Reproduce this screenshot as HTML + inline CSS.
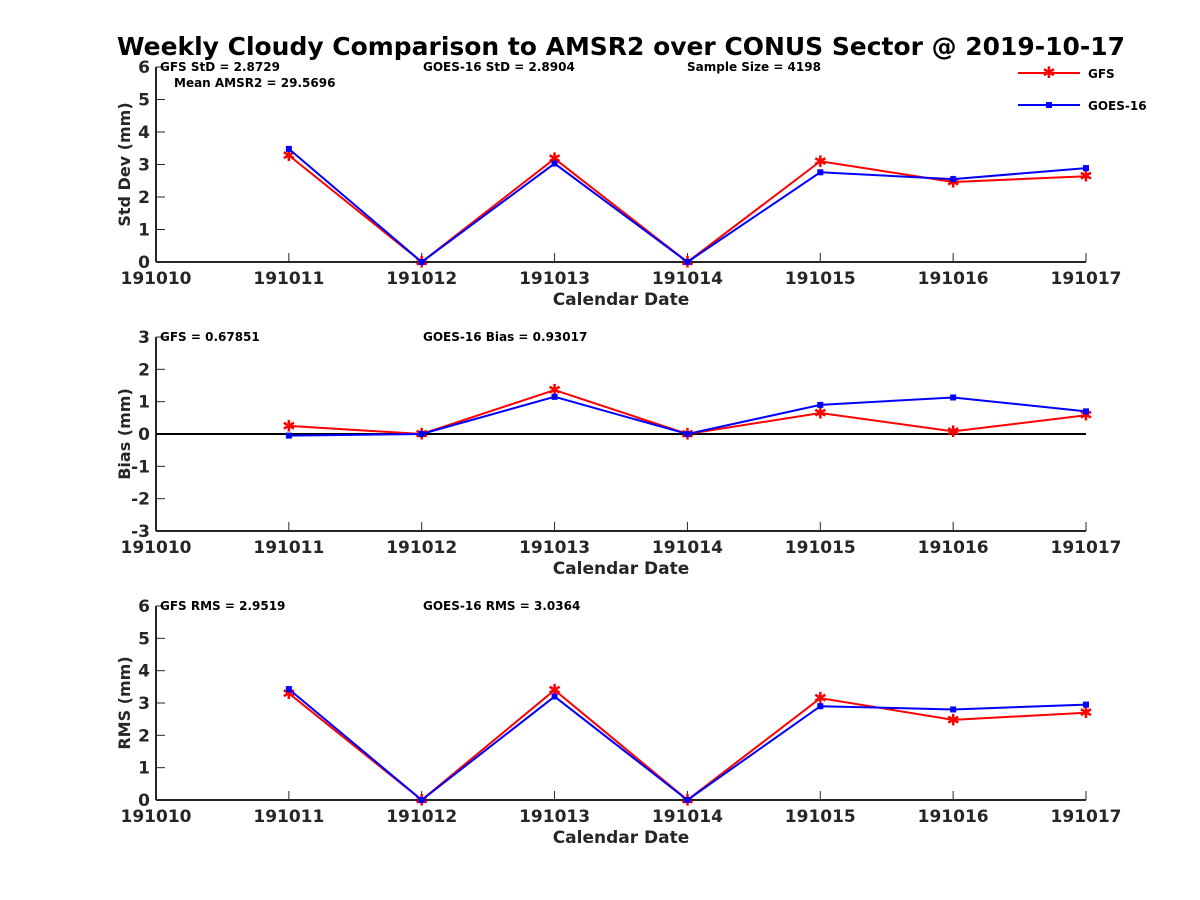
<!DOCTYPE html>
<html><head><meta charset="utf-8"><style>
body{margin:0;background:#fff}
svg{display:block;font-family:"DejaVu Sans","Liberation Sans",sans-serif;font-weight:bold}
</style></head><body>
<svg id="chart" width="1200" height="900" viewBox="0 0 1200 900" xmlns="http://www.w3.org/2000/svg">
<rect width="1200" height="900" fill="#fff"/>
<text x="621" y="55" font-size="25" text-anchor="middle" textLength="1008" lengthAdjust="spacingAndGlyphs" fill="#000">Weekly Cloudy Comparison to AMSR2 over CONUS Sector @ 2019-10-17</text>
<g>
<line x1="1018" y1="73" x2="1080" y2="73" stroke="red" stroke-width="2"/>
<text x="1049" y="78" font-size="16" text-anchor="middle" fill="red">✱</text>
<text x="1088" y="78" font-size="12">GFS</text>
<line x1="1018" y1="105" x2="1080" y2="105" stroke="blue" stroke-width="2"/>
<rect x="1046" y="102" width="6" height="6" fill="blue"/>
<text x="1088" y="110" font-size="12">GOES-16</text>
</g>
</svg>
<script>
const xLabels=["191010","191011","191012","191013","191014","191015","191016","191017"];
const xIdx=[1,2,3,4,5,6,7];
const stdGFS=[3.28,0,3.18,0,3.1,2.46,2.64];
const stdGOES=[3.48,0,3.03,0,2.76,2.55,2.89];
const biasGFS=[0.25,0,1.36,0,0.65,0.08,0.58];
const biasGOES=[-0.05,0,1.15,0,0.9,1.13,0.7];
const rmsGFS=[3.3,0,3.4,0,3.15,2.48,2.7];
const rmsGOES=[3.43,0,3.2,0,2.9,2.8,2.95];
const stdTicks=[0,1,2,3,4,5,6];
const biasTicks=[-3,-2,-1,0,1,2,3];
const rmsTicks=[0,1,2,3,4,5,6];
const panels=[
 {name:"std",top:67,bot:262,min:0,max:6,ticks:stdTicks,gfs:stdGFS,goes:stdGOES,ylabel:"Std Dev (mm)",
  notes:[[160,71,"GFS StD = 2.8729"],[174,87,"Mean AMSR2 = 29.5696"],[423,71,"GOES-16 StD = 2.8904"],[687,71,"Sample Size = 4198"]]},
 {name:"bias",top:337,bot:531,min:-3,max:3,ticks:biasTicks,gfs:biasGFS,goes:biasGOES,ylabel:"Bias (mm)",zero:true,
  notes:[[160,341,"GFS = 0.67851"],[423,341,"GOES-16 Bias  = 0.93017"]]},
 {name:"rms",top:606,bot:800,min:0,max:6,ticks:rmsTicks,gfs:rmsGFS,goes:rmsGOES,ylabel:"RMS (mm)",
  notes:[[160,610,"GFS RMS = 2.9519"],[423,610,"GOES-16 RMS = 3.0364"]]}
];
const svg=document.getElementById('chart');
const NS="http://www.w3.org/2000/svg";
const X0=156,X1=1086;
function xs(i){return X0+(X1-X0)*i/7;}
function mk(tag,attrs,parent,txt){const e=document.createElementNS(NS,tag);for(const k in attrs)e.setAttribute(k,attrs[k]);if(txt!==undefined)e.textContent=txt;parent.appendChild(e);return e;}
panels.forEach(p=>{
 const ys=v=>p.bot-(v-p.min)/(p.max-p.min)*(p.bot-p.top);
 const g=mk('g',{},svg);
 
 
 mk('line',{x1:X0,y1:p.top,x2:X0,y2:p.bot,stroke:'#262626','stroke-width':2},g);
 mk('line',{x1:X0,y1:p.bot,x2:X1,y2:p.bot,stroke:'#262626','stroke-width':2},g);
 p.ticks.forEach(t=>{const y=ys(t);
  mk('line',{x1:X0,y1:y,x2:X0+9,y2:y,stroke:'#262626','stroke-width':1},g);
  const tl=mk('text',{x:X0-6,y:y+6,'font-size':17,'text-anchor':'end',fill:'#262626'},g,String(t));
  
  
 });
 xLabels.forEach((l,i)=>{const x=xs(i);
  mk('line',{x1:x,y1:p.bot,x2:x,y2:p.bot-9,stroke:'#262626','stroke-width':1},g);
  const tl=mk('text',{x:x,y:p.bot+22,'font-size':17,'text-anchor':'middle',fill:'#262626'},g,l);
  
  
 });
 const xt=mk('text',{x:621,y:p.bot+43,'font-size':17,'text-anchor':'middle',fill:'#262626'},g,"Calendar Date");
 
 
 const cy=(p.top+p.bot)/2;
 const yt=mk('text',{x:0,y:0,'font-size':16,'text-anchor':'middle',fill:'#262626',transform:`translate(130,${cy}) rotate(-90)`},g,p.ylabel);
 
 
 p.notes.forEach(n=>{const t=mk('text',{x:n[0],y:n[1],'font-size':12,fill:'#000'},g,n[2]);
  
  });
 if(p.zero){const z=mk('line',{x1:X0,y1:ys(0),x2:X1,y2:ys(0),stroke:'#000','stroke-width':2},g);
  
  }
 [[p.gfs,'red','gfs'],[p.goes,'blue','goes16']].forEach(([vals,col,nm])=>{
  const pts=vals.map((v,i)=>xs(xIdx[i])+','+ys(v)).join(' ');
  const pl=mk('polyline',{points:pts,fill:'none',stroke:col,'stroke-width':2},g);
  
  
  vals.forEach((v,i)=>{const x=xs(xIdx[i]),y=ys(v);let m;
   if(col==='red'){m=mk('text',{x:x,y:y+5.5,'font-size':16,'text-anchor':'middle',fill:'red'},g,'✱');}
   else{m=mk('rect',{x:x-3,y:y-3,width:6,height:6,fill:'blue'},g);}
   
   
  });
 });
});
</script>
</body></html>
